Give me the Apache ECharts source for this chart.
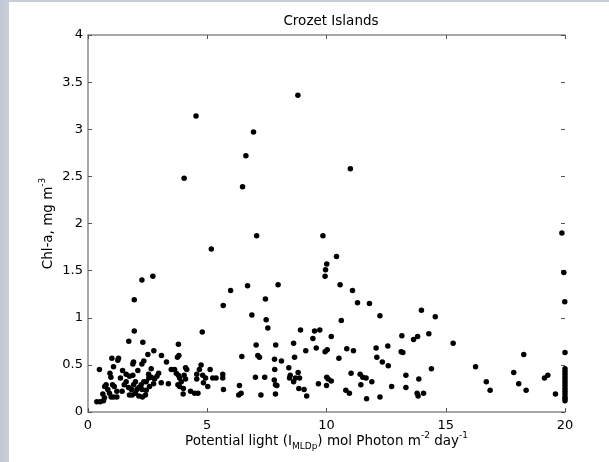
<!DOCTYPE html>
<html>
<head>
<meta charset="utf-8">
<script src="https://cdn.jsdelivr.net/npm/echarts@6/dist/echarts.min.js"></script>
<style>
html,body{margin:0;padding:0;}
body{width:609px;height:462px;overflow:hidden;
background:
 linear-gradient(to right,#c3c9d4 0px,#c8cdd8 9px,transparent 9px),
 linear-gradient(to bottom,#c8cdd8 0px,#c8cdd8 2px,#ffffff 2px);}
#chart{width:609px;height:462px;}
</style>
</head>
<body>
<div id="chart"></div>
<script>
const titleText = 'Crozet Islands';
const xTicks = [0, 5, 10, 15, 20];
const yTicks = [0, 0.5, 1, 1.5, 2, 2.5, 3, 3.5, 4];

// Potential light (x) values
const lightValues = [
 0.37,0.51,0.65,0.48,0.62,0.69,0.70,0.76,0.83,0.90,0.92,0.96,0.97,1.00,1.03,1.07,1.07,1.10,1.21,1.21,
 1.25,1.28,1.36,1.43,1.45,1.52,1.60,1.60,1.70,1.71,1.74,1.74,1.82,1.85,1.88,1.88,1.91,1.91,1.94,1.94,
 1.99,1.99,2.05,2.09,2.13,2.13,2.23,2.26,2.26,2.27,2.28,2.30,2.34,2.34,2.41,2.44,2.44,2.51,2.54,2.55,
 2.58,2.65,2.65,2.72,2.75,2.76,2.79,2.89,2.96,3.07,3.08,3.29,3.37,3.49,3.63,3.70,3.75,3.77,3.79,3.79,
 3.81,3.84,3.84,3.91,3.99,4.00,4.03,4.03,4.09,4.09,4.14,4.30,4.47,4.53,4.56,4.56,4.61,4.67,4.74,4.79,
 4.81,4.84,4.93,5.02,5.12,5.17,5.23,5.37,5.65,5.65,5.67,5.68,5.98,
 6.32,6.35,6.42,6.45,6.48,6.62,6.69,6.87,6.94,7.02,7.05,7.07,7.12,7.19,7.25,7.41,7.44,7.47,7.54,7.81,
 7.82,7.83,7.86,7.87,7.86,7.92,7.97,8.11,8.42,8.45,8.48,8.62,8.62,8.66,8.70,8.80,8.81,8.84,8.87,8.91,
 9.06,9.13,9.17,9.43,9.50,9.57,9.66,9.72,9.85,9.94,9.94,9.96,10.00,10.01,10.01,10.03,10.07,10.20,10.20,10.42,
 10.52,10.57,10.62,10.81,10.85,10.96,11.00,11.03,11.09,11.13,11.30,11.41,11.44,11.52,11.66,11.68,11.80,11.90,12.08,12.11,
 12.24,12.24,12.34,12.57,12.59,12.73,13.13,13.16,13.20,13.33,13.33,13.65,13.80,13.82,13.84,13.87,13.98,14.07,14.29,14.40,
 14.56,15.31,16.25,16.70,16.86,17.85,18.06,18.27,18.37,19.14,19.28,19.60,19.87,19.95,19.99,20.00,
 20,20,20,20,20,20,20,20,20,20,20,20,20
];
// Chl-a (y) values
const chlValues = [
 0.11,0.11,0.12,0.45,0.19,0.15,0.27,0.29,0.24,0.20,0.41,0.37,0.16,0.57,0.29,0.48,0.16,0.27,0.22,0.16,
 0.55,0.57,0.36,0.22,0.44,0.29,0.32,0.40,0.26,0.75,0.38,0.18,0.24,0.18,0.39,0.51,0.53,0.29,1.19,0.86,
 0.20,0.32,0.24,0.44,0.17,0.26,0.29,1.40,0.51,0.24,0.16,0.74,0.54,0.32,0.18,0.32,0.23,0.61,0.40,0.36,
 0.27,0.46,0.37,1.44,0.30,0.65,0.35,0.38,0.41,0.31,0.60,0.53,0.30,0.45,0.45,0.41,0.58,0.29,0.72,0.39,
 0.60,0.36,0.27,0.32,0.19,0.25,2.48,0.39,0.47,0.35,0.45,0.22,0.20,3.14,0.40,0.35,0.20,0.45,0.50,0.85,
 0.39,0.31,0.36,0.27,0.45,1.73,0.36,0.36,0.40,0.36,1.13,0.24,1.29,
 0.18,0.28,0.20,0.59,2.39,2.72,1.34,1.03,2.97,0.37,0.71,1.87,0.60,0.58,0.18,0.37,1.20,0.98,0.89,0.34,
 0.56,0.45,0.19,0.71,0.29,0.28,1.35,0.54,0.47,0.36,0.39,0.32,0.73,0.58,0.36,3.36,0.42,0.25,0.36,0.87,
 0.24,0.65,0.17,0.78,0.86,0.68,0.30,0.87,1.87,1.44,0.64,1.51,0.28,1.57,0.37,0.66,0.35,0.33,0.80,1.65,
 0.57,1.35,0.97,0.23,0.67,0.20,2.58,0.41,1.29,0.65,1.16,0.40,0.29,0.37,0.36,0.14,1.15,0.32,0.68,0.58,
 1.02,0.16,0.53,0.70,0.49,0.27,0.64,0.81,0.63,0.39,0.26,0.77,0.20,0.80,0.17,0.35,1.08,0.20,0.83,0.46,
 1.01,0.73,0.48,0.32,0.23,0.42,0.30,0.61,0.23,0.36,0.39,0.19,1.90,1.48,1.17,0.63,
 0.46,0.43,0.40,0.37,0.34,0.31,0.28,0.25,0.22,0.19,0.16,0.14,0.12
];

const points = lightValues.map((x, i) => [x, chlValues[i]]);

const chart = echarts.init(document.getElementById('chart'), null, {renderer: 'canvas'});
const FONT = '"DejaVu Sans", Arial, sans-serif';
const axisGray = '#8a8a8a';
const richStyles = {
  sup: {fontSize: 9, verticalAlign: 'top', fontFamily: FONT, color: '#000', lineHeight: 20},
  sub: {fontSize: 9, verticalAlign: 'bottom', fontFamily: FONT, color: '#000', lineHeight: 20}
};
const tickStyle = {show: true, inside: true, length: 4, lineStyle: {color: '#555'}};

chart.setOption({
  animation: false,
  backgroundColor: 'transparent',
  title: {
    text: titleText,
    left: 326, top: 9, textAlign: 'center',
    textStyle: {fontSize: 13.5, fontWeight: 'normal', color: '#000', fontFamily: FONT}
  },
  grid: {left: 88, right: 44, top: 35, bottom: 50, containLabel: false},
  xAxis: [{
    type: 'value', min: xTicks[0], max: xTicks[xTicks.length - 1], interval: 5,
    position: 'bottom',
    axisLine: {show: true, lineStyle: {color: axisGray, width: 1.5}},
    axisTick: tickStyle,
    splitLine: {show: false},
    axisLabel: {fontSize: 13, color: '#000', fontFamily: FONT, margin: 7},
    name: 'Potential light (I{sub|MLDp}) mol Photon m{sup|-2} day{sup|-1}',
    nameLocation: 'middle', nameGap: 19, nameMoveOverlap: false,
    nameTextStyle: {fontSize: 13.5, color: '#000', fontFamily: FONT, lineHeight: 20, rich: richStyles}
  }, {
    type: 'value', min: xTicks[0], max: xTicks[xTicks.length - 1], interval: 5,
    position: 'top',
    axisLine: {show: true, onZero: false, lineStyle: {color: axisGray, width: 1.5}},
    axisTick: tickStyle,
    splitLine: {show: false},
    axisLabel: {show: false}
  }],
  yAxis: [{
    type: 'value', min: yTicks[0], max: yTicks[yTicks.length - 1], interval: 0.5,
    position: 'left',
    axisLine: {show: true, lineStyle: {color: axisGray, width: 1.5}},
    axisTick: tickStyle,
    splitLine: {show: false},
    axisLabel: {fontSize: 13, color: '#000', fontFamily: FONT, margin: 5},
    name: 'Chl-a, mg m{sup|-3}',
    nameLocation: 'middle', nameRotate: 90, nameGap: 30, nameMoveOverlap: false,
    nameTextStyle: {fontSize: 13.5, color: '#000', fontFamily: FONT, lineHeight: 20, rich: richStyles}
  }, {
    type: 'value', min: yTicks[0], max: yTicks[yTicks.length - 1], interval: 0.5,
    position: 'right',
    axisLine: {show: false, onZero: false},
    axisTick: tickStyle,
    splitLine: {show: false},
    axisLabel: {show: false}
  }],
  series: [{
    type: 'scatter',
    xAxisIndex: 0, yAxisIndex: 0,
    data: points,
    symbol: 'circle',
    symbolSize: 5.5,
    clip: false,
    itemStyle: {color: '#000', opacity: 1}
  }, {
    type: 'scatter',
    xAxisIndex: 1, yAxisIndex: 1,
    data: [],
    silent: true
  }]
});
</script>
</body>
</html>
